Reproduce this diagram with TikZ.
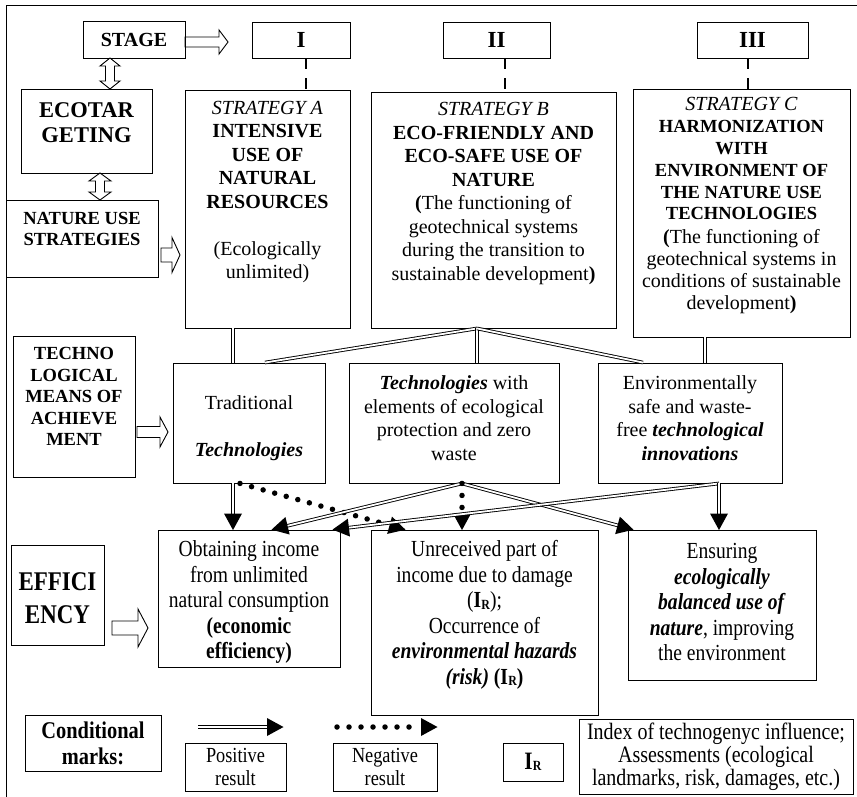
\documentclass[tikz,border=0pt]{standalone}
\usepackage{fontspec}
\setmainfont{Liberation Serif}
\newfontfamily\narrowfont[FakeStretch=0.85]{Liberation Serif}
\usetikzlibrary{positioning,fit,calc,decorations.markings}

\newcommand{\IR}{\textbf{I\kern.3pt\raisebox{-1.2pt}{\fontsize{14}{14}\selectfont R}}}
\newcommand{\bi}[1]{\textbf{\textit{#1}}}
\newcommand{\stcap}[1]{{\fontsize{18.5}{21}\selectfont\textbf{#1}}}
% hollow arrow: tail x, mid y, length, shaft half, head half, head length
\newcommand{\harr}[6]{\draw[line width=0.9pt] (#1,#2-#4) -- (#1+#3-#6,#2-#4) -- (#1+#3-#6,#2-#5) -- (#1+#3,#2) -- (#1+#3-#6,#2+#5) -- (#1+#3-#6,#2+#4) -- (#1,#2+#4) -- cycle;}
% hollow double arrow, vertical: x, top y, bottom y, shaft half, head half, head length
\newcommand{\varr}[6]{\draw[line width=0.9pt] (#1-#4,#2+#6) -- (#1-#5,#2+#6) -- (#1,#2) -- (#1+#5,#2+#6) -- (#1+#4,#2+#6) -- (#1+#4,#3-#6) -- (#1+#5,#3-#6) -- (#1,#3) -- (#1-#5,#3-#6) -- (#1-#4,#3-#6) -- cycle;}

\tikzset{box/.style={draw, line width=0.9pt, inner sep=0pt}}
\tikzset{txt/.style={inner sep=0pt, align=center, font=\fontsize{20}{23.5}\selectfont}}
\tikzset{ntxt/.style={inner sep=0pt, align=center, font=\narrowfont\fontsize{23}{25.5}\selectfont}}
\tikzset{dline/.style={draw, double, double distance=1.8pt, line width=0.9pt}}
\tikzset{tipend/.style={postaction={decorate, decoration={markings, mark=at position 1 with {\fill (0.5pt,0pt) -- (-16pt,9pt) -- (-16pt,-9pt) -- cycle;}}}}}
\tikzset{posarr/.style={dline, shorten >=14pt, tipend}}
\tikzset{negarr/.style={draw, line width=5.5pt, line cap=round, dash pattern=on 0pt off 12pt, shorten >=17pt, tipend}}
\tikzset{dashln/.style={draw, line width=2.4pt, dash pattern=on 11pt off 9pt}}

\begin{document}
\begin{tikzpicture}[x=1pt, y=-1pt]
\useasboundingbox (0,0) rectangle (857,797);
\draw[line width=0.9pt] (6,797) |- (857,5);

% stages
\node[box, fit={(83,21) (185,58)}] (stage) {};
\node[txt, font=\bfseries\fontsize{20}{23.5}\selectfont] (stage-t) at (stage) {STAGE};
\node[box, fit={(252,22) (350,58)}] (sI) {};
\node[txt, font=\bfseries\fontsize{23}{23}\selectfont] (sI-t) at (sI) {I};
\node[box, fit={(443,22) (550,58)}] (sII) {};
\node[txt, font=\bfseries\fontsize{23}{23}\selectfont] (sII-t) at (sII) {II};
\node[box, fit={(697,22) (808,58)}] (sIII) {};
\node[txt, font=\bfseries\fontsize{23}{23}\selectfont] (sIII-t) at (sIII) {III};

% left column
\node[box, fit={(21,89) (152,173)}] (ecot) {};
\node[txt, font=\bfseries\fontsize{22.5}{25}\selectfont] (ecot-t) at ([yshift=8.5pt]ecot.center) {ECOTAR\\GETING};
\node[box, fit={(6,200) (158,277)}] (nus) {};
\node[txt, font=\bfseries\fontsize{18.5}{21}\selectfont] (nus-t) at ([yshift=9.5pt]nus.center) {NATURE USE\\STRATEGIES};
\node[box, fit={(13,336) (135,477)}] (tml) {};
\node[txt, font=\bfseries\fontsize{18.5}{21.5}\selectfont] (tml-t) at ([yshift=10pt]tml.center) {TECHNO\\LOGICAL\\MEANS OF\\ACHIEVE\\MENT};
\node[box, fit={(11,545) (104,645)}] (eff) {};
\node[ntxt, font=\narrowfont\bfseries\fontsize{27}{33}\selectfont] (eff-t) at ([yshift=-3.5pt]eff.center) {EFFICI\\ENCY};

% strategies
\node[box, fit={(185,90) (350,328)}] (stA) {};
\node[txt] (stA-t) at ([yshift=17pt]stA.center) {\textit{STRATEGY A}\\ \textbf{INTENSIVE}\\ \textbf{USE OF}\\ \textbf{NATURAL}\\ \textbf{RESOURCES}\\[23.5pt] (Ecologically\\ unlimited)};
\node[box, fit={(371,92) (616,328)}] (stB) {};
\node[txt] (stB-t) at ([yshift=16.5pt]stB.center) {\textit{STRATEGY B}\\ \textbf{ECO-FRIENDLY AND}\\ \textbf{ECO-SAFE USE OF}\\ \textbf{NATURE}\\ \textbf{(}The functioning of\\ geotechnical systems\\ during the transition to\\ sustainable development\textbf{)}};
\node[box, fit={(633,89) (850,337)}] (stC) {};
\node[txt, font=\fontsize{20}{21.8}\selectfont] (stC-t) at ([yshift=7.5pt]stC.center) {\textit{STRATEGY C}\\ \stcap{HARMONIZATION}\\ \stcap{WITH}\\ \stcap{ENVIRONMENT OF}\\ \stcap{THE NATURE USE}\\ \stcap{TECHNOLOGIES}\\[2pt] \textbf{(}The functioning of\\ geotechnical systems in\\ conditions of sustainable\\ development\textbf{)}};

% technologies
\node[box, fit={(173,363) (325,483)}] (tA) {};
\node[txt] (tA-t) at ([yshift=-5.5pt]tA.center) {Traditional\\[23.5pt] \bi{Technologies}};
\node[box, fit={(349,363) (559,483)}] (tB) {};
\node[txt] (tB-t) at ([yshift=5pt]tB.center) {\bi{Technologies} with\\ elements of ecological\\ protection and zero\\ waste};
\node[box, fit={(598,363) (782,483)}] (tC) {};
\node[txt] (tC-t) at ([yshift=5pt]tC.center) {Environmentally\\ safe and waste-\\ free \bi{technological}\\ \bi{innovations}};

% efficiency
\node[box, fit={(158,530) (340,667)}] (eA) {};
\node[ntxt] (eA-t) at ([yshift=-3.5pt]eA.center) {Obtaining income\\ from unlimited\\ natural consumption\\ \textbf{(economic}\\ \textbf{efficiency)}};
\node[box, fit={(371,530) (598,715)}] (eB) {};
\node[ntxt] (eB-t) at ([yshift=7.5pt]eB.center) {Unreceived part of\\ income due to damage\\ (\IR);\\ Occurrence of\\ \bi{environmental hazards}\\ \bi{(risk)} \textbf{(}\IR\textbf{)}};
\node[box, fit={(628,530) (816,680)}] (eC) {};
\node[ntxt] (eC-t) at ([yshift=3pt]eC.center) {Ensuring\\ \bi{ecologically}\\ \bi{balanced use of}\\ \bi{nature}, improving\\ the environment};

% legend
\node[box, fit={(25,715) (161,771)}] (cm) {};
\node[ntxt, font=\narrowfont\bfseries\fontsize{24}{26}\selectfont] (cm-t) at (cm) {Conditional\\marks:};
\node[box, fit={(185,743) (286,791)}] (pos) {};
\node[ntxt, font=\narrowfont\fontsize{21.5}{23}\selectfont] (pos-t) at (pos) {Positive\\result};
\node[box, fit={(333,743) (437,791)}] (neg) {};
\node[ntxt, font=\narrowfont\fontsize{21.5}{23}\selectfont] (neg-t) at (neg) {Negative\\result};
\node[box, fit={(503,743) (563,781)}] (ir) {};
\node[ntxt, font=\narrowfont\fontsize{25}{25}\selectfont] (ir-t) at (ir) {\IR};
\node[box, fit={(579,719) (853,794)}] (idx) {};
\node[ntxt, font=\narrowfont\fontsize{23.5}{23}\selectfont] (idx-t) at (idx) {Index of technogenyc influence;\\ Assessments (ecological\\ landmarks, risk, damages, etc.)};

% hollow arrows
\harr{185}{42}{43}{5}{12}{9}
\harr{161}{255}{19}{7}{17.5}{8}
\harr{137}{432}{31}{5.5}{15}{8}
\harr{112}{628}{36}{7}{19}{10}
\varr{110}{58}{89}{4.5}{10}{8}
\varr{100}{173}{200}{4.5}{11}{8}

% stage links
\draw[dashln] ([xshift=5pt]sI.south) -- ([xshift=5pt]sI.south |- stA.north);
\draw[dashln] ([xshift=8.5pt]sII.south) -- ([xshift=8.5pt]sII.south |- stB.north);
\draw[dashln] ([xshift=-4.5pt]sIII.south) -- ([xshift=-4.5pt]sIII.south |- stC.north);

% strategies to technologies
\coordinate (bS) at ([xshift=-16.5pt]stB.south);
\draw[dline] ([xshift=-34.5pt]stA.south) -- ([xshift=-16pt]tA.north);
\draw[dline] (bS) -- ([xshift=16pt]tA.north);
\draw[dline] (bS) -- ([xshift=23pt]tB.north);
\draw[dline] (bS) -- ([xshift=-47pt]tC.north);
\draw[dline] ([xshift=-36.5pt]stC.south) -- ([xshift=15pt]tC.north);

% technologies to efficiency
\coordinate (tBs) at ([xshift=8pt]tB.south);
\coordinate (tCs) at ([xshift=29pt]tC.south);
\draw[posarr] ([xshift=-16pt]tA.south) -- ([xshift=-16pt]eA.north);
\draw[negarr] ([xshift=-9pt]tA.south) -- ([xshift=-79.5pt]eB.north);
\draw[posarr] (tBs) -- ([xshift=23pt]eA.north);
\draw[posarr] (tBs) -- ([xshift=-89pt]eC.north);
\draw[negarr] (tBs) -- ([xshift=-22.5pt]eB.north);
\draw[posarr] (tCs) -- ([xshift=84pt]eA.north);
\draw[posarr] (tCs) -- ([xshift=-3pt]eC.north);

% legend arrows
\coordinate (posL) at (198,727);
\coordinate (posR) at (283,727);
\coordinate (negL) at (337,727);
\coordinate (negR) at (437,727);
\draw[posarr] (posL) -- (posR);
\draw[negarr] (negL) -- (negR);
\end{tikzpicture}
\end{document}
